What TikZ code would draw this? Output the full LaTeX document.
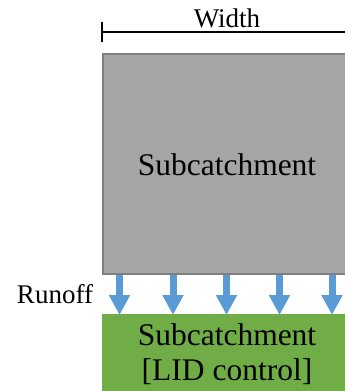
\documentclass[tikz,border=0pt]{standalone}
\usepackage{fontspec}
\setmainfont{LiberationSerif}[Extension=.ttf, UprightFont=*-Regular]
\usetikzlibrary{arrows.meta,calc}
\definecolor{areagray}{HTML}{A5A5A5}
\definecolor{areaedge}{HTML}{7F7F7F}
\definecolor{lidgreen}{HTML}{70AD47}
\definecolor{flowblue}{HTML}{5B9BD5}
\tikzset{
  x=1pt, y=1pt,
  boxtext/.style={font=\fontsize{31.5}{35}\selectfont, text=black},
  labeltext/.style={font=\fontsize{27}{30}\selectfont, text=black},
  flow/.style={draw=flowblue, line width=7pt,
    -{Triangle[width=20pt 0,length=20pt 0]}, shorten >=-1pt},
  dimline/.style={draw=black, line width=1.3pt},
}
\begin{document}
\begin{tikzpicture}
\useasboundingbox (0,0) rectangle (345,-391);
\clip (0,0) rectangle (345,-391);

% upstream subcatchment area
\node[draw=areaedge, fill=areagray, line width=2pt, minimum width=250pt,
      minimum height=220pt, inner sep=0pt, anchor=north west] (sub) at (102,-53) {};
\node[boxtext, anchor=base] (subtext) at (227,-175) {Subcatchment};

% receiving subcatchment with LID control
\node[fill=lidgreen, minimum width=250pt, minimum height=90pt, inner sep=0pt,
      anchor=north west] (lid) at (102,-314) {};
\node[boxtext, anchor=base] (lidtext1) at (227,-345) {Subcatchment};
\node[boxtext, anchor=base] (lidtext2) at (227,-380) {[LID control]};

% width dimension above the area
\coordinate (wl) at (102,-32);
\coordinate (wr) at (360,-32);
\coordinate (wt) at (102,-22);
\coordinate (wb) at (102,-42);
\draw[dimline] (wl) -- (wr);
\draw[dimline] (wt) -- (wb);
\node[labeltext, anchor=base] (width) at (227,-27) {Width};

% runoff arrows
\node[labeltext, anchor=base] (runoff) at (55,-303) {Runoff};
\foreach \i/\x in {1/119.5,2/173,3/226.5,4/279.5,5/332}{
  \coordinate (a\i) at (\x,0);
  \draw[flow] (sub.south -| a\i) -- (lid.north -| a\i);
}
\end{tikzpicture}
\end{document}
